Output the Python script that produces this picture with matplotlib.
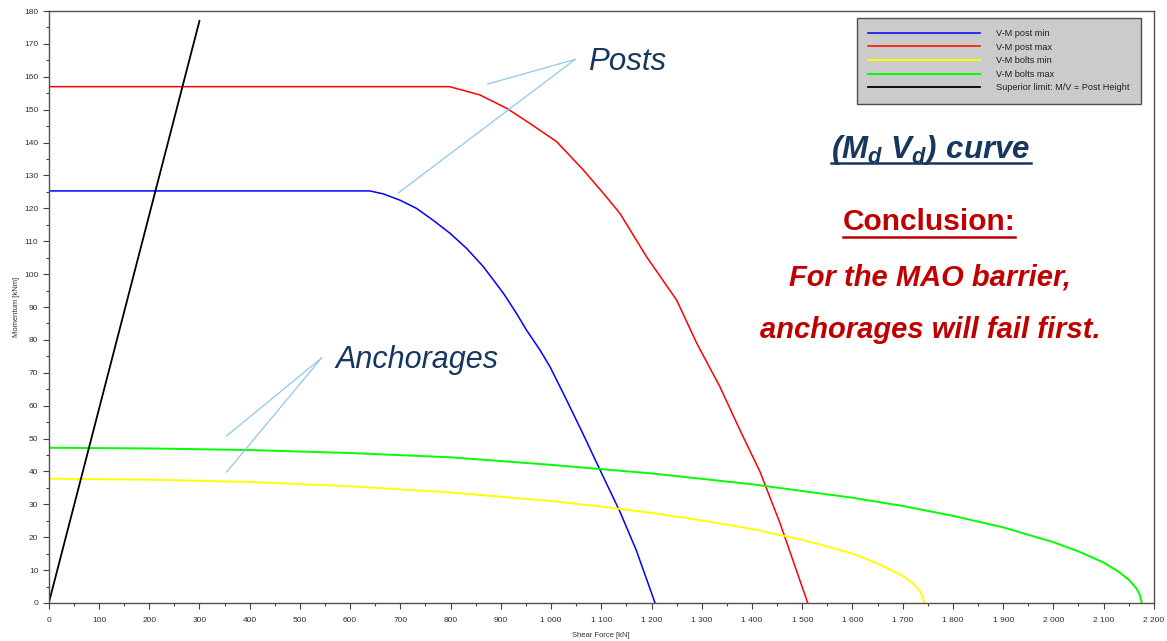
import numpy as np
import matplotlib
matplotlib.use("Agg")
import matplotlib.pyplot as plt
from matplotlib.ticker import MultipleLocator, FuncFormatter
from matplotlib.lines import Line2D

plt.rcParams['font.family'] = ['Liberation Sans', 'DejaVu Sans']
plt.rcParams['mathtext.fontset'] = 'custom'
plt.rcParams['mathtext.it'] = 'Liberation Sans:italic:bold'
plt.rcParams['mathtext.rm'] = 'Liberation Sans:italic:bold'

# V-M post min (blue)
post_min_V = [0, 639, 666, 699, 732, 765, 799, 832, 865, 905, 931, 951, 978, 998,
              1030, 1064, 1097, 1137, 1170, 1207]
post_min_M = [125.3, 125.3, 124.4, 122.5, 120.0, 116.4, 112.4, 107.8, 102.3, 94.2, 88.1, 83.0, 76.9, 71.8,
              62.0, 51.3, 40.6, 27.8, 15.9, 0]

# V-M post max (red)
post_max_V = [0, 798, 858, 912, 958, 1011, 1064, 1104, 1137, 1190, 1250, 1290, 1336, 1376,
              1416, 1456, 1511]
post_max_M = [157.0, 157.0, 154.5, 150.4, 145.8, 140.3, 131.7, 124.6, 118.5, 105.3, 92.1, 79.0, 65.8, 52.6,
              39.9, 24.2, 0]

# V-M bolts min (yellow)
bolts_min_V = [0, 200, 400, 600, 800, 1000, 1100, 1200, 1300, 1400, 1500, 1550, 1600, 1650,
               1700, 1720, 1735, 1740, 1743]
bolts_min_M = [37.8, 37.5, 36.8, 35.5, 33.6, 31.0, 29.3, 27.4, 25.1, 22.5, 19.2, 17.2, 15.0, 12.0,
               8.3, 6.0, 3.5, 1.8, 0]

# V-M bolts max (green)
bolts_max_V = [0, 200, 400, 600, 800, 1000, 1200, 1400, 1600, 1700, 1800, 1900, 2000, 2050,
               2100, 2130, 2150, 2165, 2172, 2176]
bolts_max_M = [47.2, 47.0, 46.5, 45.6, 44.3, 42.0, 39.4, 36.1, 32.0, 29.5, 26.5, 23.0, 18.5, 15.7,
               12.3, 9.5, 7.1, 4.5, 2.5, 0]

# superior limit M/V = post height
limit_V = [0, 300]
limit_M = [0, 177]

fig = plt.figure(figsize=(11.67, 6.41), dpi=100)
ax = fig.add_axes([0.0418, 0.0593, 0.9887 - 0.0418, 0.9828 - 0.0593])

ax.plot(post_min_V, post_min_M, color='#0000ff', lw=1.1, label='V-M post min')
ax.plot(post_max_V, post_max_M, color='#ff0000', lw=1.1, label='V-M post max')
ax.plot(bolts_min_V, bolts_min_M, color='#ffff00', lw=1.4, label='V-M bolts min')
ax.plot(bolts_max_V, bolts_max_M, color='#00ff00', lw=1.4, label='V-M bolts max')
ax.plot(limit_V, limit_M, color='black', lw=1.3, label='Superior limit: M/V = Post Height')

ax.set_xlim(0, 2200)
ax.set_ylim(0, 180)
ax.xaxis.set_major_locator(MultipleLocator(100))
ax.xaxis.set_minor_locator(MultipleLocator(50))
ax.yaxis.set_major_locator(MultipleLocator(10))
ax.yaxis.set_minor_locator(MultipleLocator(5))
ax.xaxis.set_major_formatter(FuncFormatter(lambda v, p: f"{v:,.0f}".replace(",", " ")))
ax.tick_params(which='major', length=4, width=0.8, labelsize=6, color='#404040', labelcolor='#303030', direction='out')
ax.tick_params(which='minor', length=2, width=0.8, color='#404040', direction='out')
ax.tick_params(axis='x', which='major', pad=6)
for s in ax.spines.values():
    s.set_color('#505050')
    s.set_linewidth(1.0)

ax.set_xlabel('Shear Force [kN]', fontsize=5.5, color='#303030', labelpad=6)
ax.set_ylabel('Momentum [kNm]', fontsize=5.5, color='#303030', labelpad=3)

leg = ax.legend(loc='upper right', bbox_to_anchor=(0.988, 0.989), borderaxespad=0,
                fontsize=6.6, handlelength=12.2, handletextpad=1.7, labelspacing=0.5,
                borderpad=1.25, fancybox=False, framealpha=1, facecolor='#cbcbcb',
                edgecolor='#505050')
leg.get_frame().set_linewidth(1.0)
for txt in leg.get_texts():
    txt.set_color('#202020')

navy = '#17375e'
darkred = '#c00000'
arrow_c = '#8ec8f0'

# callouts
ax.text(1074, 162, 'Posts', fontsize=22.5, style='italic', color=navy, ha='left', va='baseline')
ax.plot([1048, 874], [165.3, 157.8], color=arrow_c, lw=0.9)
ax.plot([1048, 696], [165.3, 124.7], color=arrow_c, lw=0.9)
ax.text(571, 71.4, 'Anchorages', fontsize=22, style='italic', color=navy, ha='left', va='baseline')
ax.plot([543, 354], [74.5, 50.8], color=arrow_c, lw=0.9)
ax.plot([543, 354], [74.5, 39.8], color=arrow_c, lw=0.9)

t1 = fig.text(0.7978, 0.753, r'$(M_d\ V_d)\ curve$', fontsize=22.5, color=navy, ha='center', va='baseline')
t2 = fig.text(0.796, 0.641, 'Conclusion:', fontsize=21.5, fontweight='bold', color=darkred, ha='center', va='baseline')
fig.text(0.797, 0.554, 'For the MAO barrier,', fontsize=21, fontweight='bold', style='italic', color=darkred, ha='center', va='baseline')
fig.text(0.797, 0.472, 'anchorages will fail first.', fontsize=21, fontweight='bold', style='italic', color=darkred, ha='center', va='baseline')

# underlines
fig.canvas.draw()
r = fig.canvas.get_renderer()
W, H = fig.get_size_inches() * fig.dpi
for t, col, y_px in [(t1, navy, 162.7), (t2, darkred, 236.7)]:
    bb = t.get_window_extent(renderer=r)
    yf = 1 - y_px / H
    fig.add_artist(Line2D([bb.x0 / W, bb.x1 / W], [yf, yf], color=col, lw=1.8))

fig.savefig('out.png', dpi=100)
